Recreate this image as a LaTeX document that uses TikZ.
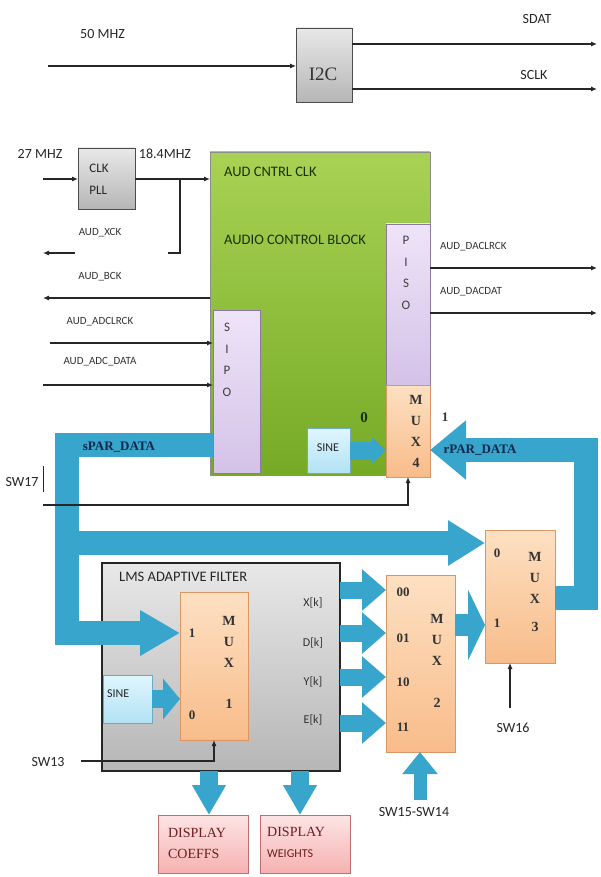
\documentclass[tikz,border=0pt]{standalone}
\usepackage{fontspec}
\setmainfont{Carlito}
\newfontfamily\srf{Liberation Serif}
\usetikzlibrary{arrows.meta}
\definecolor{busblue}{RGB}{56,165,204}
\definecolor{grnT}{RGB}{168,210,84}
\definecolor{grnB}{RGB}{118,170,38}
\definecolor{lavT}{RGB}{238,228,248}
\definecolor{lavB}{RGB}{212,194,232}
\definecolor{lavE}{RGB}{140,120,160}
\definecolor{pchT}{RGB}{253,224,194}
\definecolor{pchB}{RGB}{248,188,138}
\definecolor{pchE}{RGB}{220,150,100}
\definecolor{sinT}{RGB}{224,246,253}
\definecolor{sinB}{RGB}{178,226,244}
\definecolor{sinE}{RGB}{110,170,200}
\definecolor{gryT}{RGB}{232,232,232}
\definecolor{gryB}{RGB}{182,182,182}
\definecolor{pnkT}{RGB}{253,228,228}
\definecolor{pnkB}{RGB}{245,178,178}
\definecolor{pnkE}{RGB}{190,110,110}
\definecolor{navy}{RGB}{15,40,75}
\definecolor{dkgrn}{RGB}{25,50,5}
\definecolor{dispred}{RGB}{110,30,30}
\tikzset{
  box/.style={draw=#1, line width=0.8pt, inner sep=0pt, outer sep=0pt, anchor=north west},
  sig/.style={draw=black!85, line width=1.1pt, -{Latex[length=6pt,width=5pt]}},
  wire/.style={draw=black!85, line width=1.1pt},
  bus/.style={draw=busblue, line width=24pt, line join=miter},
  fat/.style={draw=busblue, line width=#1},
  lbl/.style={inner sep=0pt, font=\fontsize{11}{11}\selectfont, text=black!80},
  big/.style={inner sep=0pt, font=\fontsize{14}{14}\selectfont, text=black!85},
  mx/.style={inner sep=0pt, align=center, font=\srf\bfseries\fontsize{14}{21}\selectfont, text=black!80},
  dg/.style={inner sep=0pt, font=\srf\bfseries\fontsize{13}{13}\selectfont, text=black!80},
  ltr/.style={inner sep=0pt, align=center, font=\fontsize{13}{21.5}\selectfont, text=black!75},
}
\begin{document}
\begin{tikzpicture}[x=1pt,y=-1pt]
\useasboundingbox[fill=white] (0,0) rectangle (600,877);

% ---------------- I2C ----------------
\node[box=black!70, minimum width=56pt, minimum height=74pt, top color=gryT, bottom color=gryB] (i2c) at (296,28) {};
\node[inner sep=0pt, font=\srf\fontsize{19}{19}\selectfont, text=black!80] (ti2c) at (323,74) {I2C};
\coordinate (in50) at (48,66);
\node[big, anchor=west] (t50) at (80,34) {50 MHZ};
\draw[sig] (in50) -- (in50 -| i2c.west);
\coordinate (sdatE) at (597,44);
\coordinate (sclkE) at (597,89);
\draw[sig] (i2c.east |- sdatE) -- (sdatE);
\draw[sig] (i2c.east |- sclkE) -- (sclkE);
\node[big] (tsdat) at (537,19) {SDAT};
\node[big] (tsclk) at (534,75) {SCLK};

% ---------------- audio control block ----------------
\node[box=black!45, minimum width=220pt, minimum height=323pt, top color=grnT, bottom color=grnB] (aud) at (210,152) {};
\node[anchor=west, inner sep=0pt, font=\fontsize{14.5}{14.5}\selectfont, text=dkgrn] (tacc) at (224,172) {AUD CNTRL CLK};
\node[anchor=west, inner sep=0pt, font=\fontsize{14.5}{14.5}\selectfont, text=dkgrn] (tacb) at (224,240) {AUDIO CONTROL BLOCK};

\node[box=lavE, minimum width=44pt, minimum height=161pt, top color=lavT, bottom color=lavB] (piso) at (386,224) {};
\node[ltr] (tpiso) at (406,273) {P\\I\\S\\O};
\node[box=pchE, minimum width=44pt, minimum height=92pt, top color=pchT, bottom color=pchB] (mux4) at (386,385) {};
\node[mx] (tmux4) at (416,431) {M\\U\\X\\4};

\node[box=lavE, minimum width=47pt, minimum height=163pt, top color=lavT, bottom color=lavB] (sipo) at (213,310) {};
\node[ltr] (tsipo) at (227,360) {S\\I\\P\\O};

\node[box=sinE, minimum width=43pt, minimum height=45pt, top color=sinT, bottom color=sinB] (sine4) at (307,428) {};
\node[inner sep=0pt, font=\fontsize{12}{12}\selectfont, text=black!85] (tsine4) at (328,448) {SINE};
\draw[fat=18pt, -{Triangle[length=14pt,width=26pt]}] (sine4.east) -- (sine4.east -| mux4.west);
\node[inner sep=0pt, font=\srf\bfseries\fontsize{15}{15}\selectfont, text=dkgrn] (t0m4) at (364,418) {0};
\node[dg] (t1m4) at (445,417) {1};

% ---------------- PLL ----------------
\node[box=black!70, minimum width=57pt, minimum height=61pt, top color=gryT, bottom color=gryB] (pll) at (78,148) {};
\node[inner sep=0pt, align=left, font=\fontsize{13}{22}\selectfont, text=black!85] (tpll) at (99,179) {CLK\\PLL};
\node[big] (t27) at (40,154) {27 MHZ};
\node[big] (t184) at (165,154) {18.4MHZ};
\coordinate (in27) at (43,179);
\draw[sig] (in27) -- (in27 -| pll.west);
\draw[sig] (pll.east |- in27) -- (in27 -| aud.west);
\coordinate (brX) at (180,179);
\coordinate (xckA) at (168,253);
\coordinate (xckB) at (75,253);
\coordinate (xckC) at (43,253);
\draw[wire] (brX) -- (brX |- xckA) -- (xckA);
\draw[sig] (xckB) -- (xckC);
\node[lbl] (txck) at (100,233) {AUD\_XCK};
\coordinate (bckE) at (43,298);
\draw[sig] (aud.west |- bckE) -- (bckE);
\node[lbl] (tbck) at (100,277) {AUD\_BCK};
\coordinate (adclS) at (50,343);
\draw[sig] (adclS) -- (adclS -| sipo.west);
\node[lbl] (tadcl) at (100,322) {AUD\_ADCLRCK};
\coordinate (adcdS) at (43,385);
\draw[sig] (adcdS) -- (adcdS -| sipo.west);
\node[lbl] (tadcd) at (100,362) {AUD\_ADC\_DATA};
\coordinate (daclE) at (597,268);
\coordinate (dacdE) at (597,313);
\draw[sig] (piso.east |- daclE) -- (daclE);
\draw[sig] (piso.east |- dacdE) -- (dacdE);
\node[lbl, anchor=west] (tdacl) at (440,247) {AUD\_DACLRCK};
\node[lbl, anchor=west] (tdacd) at (440,292) {AUD\_DACDAT};

% ---------------- LMS filter ----------------
\node[box=black!85, line width=1.4pt, minimum width=238pt, minimum height=208pt, top color=gryT, bottom color=gryB] (lms) at (102,563) {};
\node[anchor=west, inner sep=0pt, font=\fontsize{14.5}{14.5}\selectfont, text=black!85] (tlms) at (119,577) {LMS ADAPTIVE FILTER};
\node[box=pchE, minimum width=68pt, minimum height=148pt, top color=pchT, bottom color=pchB] (mux1) at (180,592) {};
\node[mx] (tmux1) at (229,662) {M\\U\\X\\[20pt]1};
\node[dg] (t1m1) at (192,633) {1};
\node[dg] (t0m1) at (192,715) {0};
\node[box=sinE, minimum width=49pt, minimum height=48pt, top color=sinT, bottom color=sinB] (sine1) at (103,675) {};
\node[inner sep=0pt, font=\fontsize{12}{12}\selectfont, text=black!85, anchor=west] (tsine1) at (107,694) {SINE};
\draw[fat=18pt, -{Triangle[length=17pt,width=40pt]}] (sine1.east) -- (sine1.east -| mux1.west);

% ---------------- MUX2 / MUX3 ----------------
\node[box=pchE, minimum width=69pt, minimum height=177pt, top color=pchT, bottom color=pchB] (mux2) at (386,575) {};
\node[mx] (tmux2) at (437,661) {M\\U\\X\\[21pt]2};
\node[dg] (t00) at (403,592) {00};
\node[dg] (t01) at (403,638) {01};
\node[dg] (t10) at (403,682) {10};
\node[dg] (t11) at (403,727) {11};
\node[box=pchE, minimum width=70pt, minimum height=133pt, top color=pchT, bottom color=pchB] (mux3) at (485,530) {};
\node[mx] (tmux3) at (535,592) {M\\U\\X\\[7pt]3};
\node[dg] (t0m3) at (497,553) {0};
\node[dg] (t1m3) at (497,623) {1};

\foreach \yy/\nm in {590/X,633/D,677/Y,723/E}{
  \coordinate (k\nm) at (0,\yy);
  \draw[fat=17pt, -{Triangle[length=24pt,width=40pt]}] (lms.east |- k\nm) -- (mux2.west |- k\nm);
}
\node[inner sep=0pt, font=\fontsize{12}{12}\selectfont, text=black!80] (tX) at (313,603) {X[k]};
\node[inner sep=0pt, font=\fontsize{12}{12}\selectfont, text=black!80] (tD) at (313,643) {D[k]};
\node[inner sep=0pt, font=\fontsize{12}{12}\selectfont, text=black!80] (tY) at (313,682) {Y[k]};
\node[inner sep=0pt, font=\fontsize{12}{12}\selectfont, text=black!80] (tE) at (313,720) {E[k]};

\coordinate (m23y) at (0,625);
\draw[fat=22pt, -{Triangle[length=17pt,width=70pt]}] (mux2.east |- m23y) -- (mux3.west |- m23y);

% ---------------- buses ----------------
\coordinate (spY) at (0,445);
\coordinate (busX) at (67,0);
\coordinate (m1y) at (0,633);
\coordinate (m3y) at (0,543);
\draw[bus, -{Triangle[length=40pt,width=43pt]}] (sipo.west |- spY) -- (busX |- spY) -- (busX |- m1y) -- (mux1.west |- m1y);
\draw[bus, -{Triangle[length=37pt,width=43pt]}] (busX |- m3y) -- (mux3.west |- m3y);
\node[inner sep=0pt, font=\srf\bfseries\fontsize{13}{13}\selectfont, text=navy] (tspar) at (119,447) {sPAR\_DATA};

\coordinate (rpX) at (586,0);
\coordinate (r3y) at (0,598);
\coordinate (r4y) at (0,450);
\draw[bus, -{Triangle[length=36pt,width=57pt]}] (mux3.east |- r3y) -- (rpX |- r3y) -- (rpX |- r4y) -- (mux4.east |- r4y);
\node[inner sep=0pt, font=\srf\bfseries\fontsize{13}{13}\selectfont, text=navy] (trpar) at (480,450) {rPAR\_DATA};

% ---------------- switches ----------------
\node[big] (tsw17) at (22,482) {SW17};
\coordinate (tickA) at (43,466);
\coordinate (tickB) at (43,492);
\draw[wire, line width=0.8pt] (tickA) -- (tickB);
\coordinate (sw17) at (43,505);
\draw[sig] (sw17) -- (sw17 -| mux4.south) -- (mux4.south);

\node[big] (tsw13) at (48,762) {SW13};
\coordinate (sw13) at (81,761);
\draw[sig] (sw13) -- (sw13 -| mux1.south) -- (mux1.south);

\coordinate (sw16) at (510,708);
\draw[sig] (sw16) -- (sw16 |- mux3.south);
\node[big] (tsw16) at (513,728) {SW16};

\coordinate (sw1514) at (420,800);
\draw[fat=13pt, -{Triangle[length=22pt,width=34pt]}] (sw1514) -- (sw1514 |- mux2.south);
\node[big] (tsw1514) at (414,812) {SW15-SW14};

% ---------------- displays ----------------
\node[box=pnkE, minimum width=90pt, minimum height=58pt, top color=pnkT, bottom color=pnkB] (dc) at (158,815) {};
\node[box=pnkE, minimum width=90pt, minimum height=58pt, top color=pnkT, bottom color=pnkB] (dw) at (260,815) {};
\node[inner sep=0pt, align=left, font=\srf\fontsize{14}{21}\selectfont, text=dispred] (tdc) at (197,843) {DISPLAY\\COEFFS};
\node[inner sep=0pt, anchor=west, font=\srf\fontsize{14}{14}\selectfont, text=dispred] (tdw1) at (267,832) {DISPLAY};
\node[inner sep=0pt, anchor=west, font=\fontsize{12}{12}\selectfont, text=dispred] (tdw2) at (267,854) {WEIGHTS};
\coordinate (a1x) at (209,0);
\coordinate (a2x) at (300,0);
\draw[fat=18pt, -{Triangle[length=30pt,width=32pt]}] (lms.south -| a1x) -- (a1x |- dc.north);
\draw[fat=18pt, -{Triangle[length=30pt,width=32pt]}] (lms.south -| a2x) -- (a2x |- dw.north);
\end{tikzpicture}
\end{document}
